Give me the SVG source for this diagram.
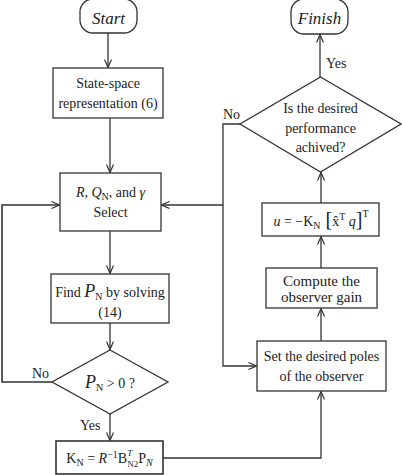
<svg xmlns="http://www.w3.org/2000/svg" width="402" height="475" viewBox="0 0 402 475" font-family="'Liberation Serif','DejaVu Serif',serif">
<defs>
<style>
.b{fill:#fff;stroke:#333;stroke-width:1.3}
.c{fill:none;stroke:#333;stroke-width:1.3}
text{font-family:'Liberation Serif','DejaVu Serif',serif;font-size:14px;fill:#222;text-anchor:middle}
.l{text-anchor:start}
.i{font-style:italic}
.s{font-size:10px}
</style>
<marker id="a" markerWidth="10" markerHeight="8" refX="9" refY="4" orient="auto" markerUnits="userSpaceOnUse">
<path d="M1,0.5 L9,4 L1,7.5" fill="none" stroke="#333" stroke-width="1.2"/>
</marker>
</defs>
<rect width="402" height="475" fill="#fff"/>
<g id="connectors">
<path class="c" d="M108,33 V67.5" marker-end="url(#a)"/>
<path class="c" d="M110,118 V172.5" marker-end="url(#a)"/>
<path class="c" d="M110,231 V273.5" marker-end="url(#a)"/>
<path class="c" d="M110,323 V349.5" marker-end="url(#a)"/>
<path class="c" d="M110,414 V440.5" marker-end="url(#a)"/>
<path class="c" d="M52,382 H2 V205 H59.5" marker-end="url(#a)" style="stroke-width:1.6"/>
<path class="c" d="M240,124 H223 V366 H256.5" marker-end="url(#a)"/>
<path class="c" d="M223,205 H161.5" marker-end="url(#a)"/>
<path class="c" d="M163,458 H321 V391.5" marker-end="url(#a)"/>
<path class="c" d="M321,341 V308.5" marker-end="url(#a)"/>
<path class="c" d="M321,268 V236.5" marker-end="url(#a)"/>
<path class="c" d="M321,203 V172.5" marker-end="url(#a)"/>
<path class="c" d="M320,77 V34.5" marker-end="url(#a)"/>
</g>
<g id="start">
<rect class="b" x="80" y="-1" width="57" height="34" rx="13"/>
<text class="i" x="108.5" y="24" style="font-size:17px">Start</text>
</g>
<g id="finish">
<rect class="b" x="291" y="-1" width="57" height="35" rx="13"/>
<text class="i" x="319.5" y="24" style="font-size:17px">Finish</text>
</g>
<g id="state-space">
<rect class="b" x="53" y="68" width="110" height="50"/>
<text x="108" y="88">State-space</text>
<text x="108" y="108">representation (6)</text>
</g>
<g id="select">
<rect class="b" x="60" y="173" width="101" height="58"/>
<text x="110.5" y="197"><tspan class="i">R</tspan>, <tspan class="i">Q</tspan><tspan dy="3" class="s">N</tspan><tspan dy="-3">, and </tspan><tspan class="i">γ</tspan></text>
<text x="110.5" y="217">Select</text>
</g>
<g id="find">
<rect class="b" x="51" y="274" width="118" height="49"/>
<text x="110" y="297">Find <tspan class="i" style="font-size:18px">P</tspan><tspan dy="3" class="s">N</tspan><tspan dy="-3"> by solving</tspan></text>
<text x="110" y="317">(14)</text>
</g>
<g id="pn-check">
<polygon class="b" points="110,350 168,382 110,414 52,382"/>
<text x="110" y="388"><tspan class="i" style="font-size:18px">P</tspan><tspan dy="3" class="s">N</tspan><tspan dy="-3"> &gt; 0 ?</tspan></text>
</g>
<g id="kn">
<rect class="b" x="56" y="441" width="107" height="33" style="stroke-width:1.6"/>
<text x="109.5" y="463">K<tspan dy="3" class="s">N</tspan><tspan dy="-3"> = </tspan><tspan class="i">R</tspan><tspan dy="-5" class="s">−1</tspan><tspan dy="5">B</tspan><tspan dy="-7" class="i" style="font-size:9px">T</tspan><tspan dx="-5" dy="11" style="font-size:9px">N2</tspan><tspan dy="-4">P</tspan><tspan dy="3" class="i s">N</tspan></text>
</g>
<g id="set-poles">
<rect class="b" x="257" y="341" width="129" height="50"/>
<text x="321.5" y="361">Set the desired poles</text>
<text x="321.5" y="381">of the observer</text>
</g>
<g id="compute-gain">
<rect class="b" x="266" y="268" width="111" height="40"/>
<text x="321.5" y="286" style="font-size:15px">Compute the</text>
<text x="321.5" y="302" style="font-size:15px">observer gain</text>
</g>
<g id="control-law">
<rect class="b" x="262" y="203" width="117" height="33"/>
<text x="321" y="226"><tspan class="i">u</tspan> = −K<tspan dy="3" class="s">N</tspan><tspan dy="-3" style="font-size:20px"> [</tspan><tspan>x̂</tspan><tspan dy="-6" class="s">T</tspan><tspan dy="6"> </tspan><tspan class="i">q</tspan><tspan style="font-size:20px">]</tspan><tspan dy="-9" class="s">T</tspan></text>
</g>
<g id="performance-check">
<polygon class="b" points="320.5,77 401,124 320.5,172 240,124"/>
<text x="320.5" y="113">Is the desired</text>
<text x="320.5" y="133">performance</text>
<text x="320.5" y="152">achived?</text>
</g>
<g id="labels">
<text class="l" x="326" y="68">Yes</text>
<text class="l" x="223" y="119">No</text>
<text class="l" x="32" y="378">No</text>
<text class="l" x="80" y="430">Yes</text>
</g>
</svg>
